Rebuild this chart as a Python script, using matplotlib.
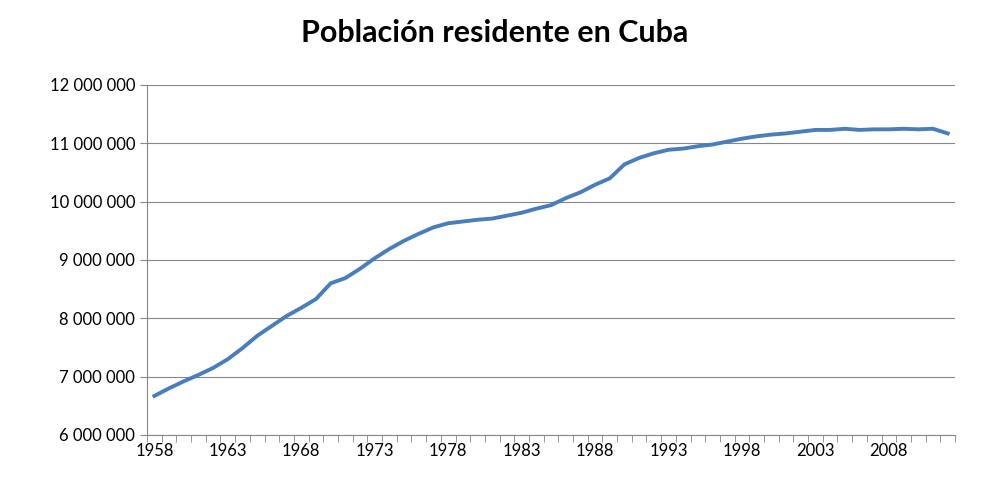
import numpy as np
import matplotlib.pyplot as plt
from matplotlib.ticker import FuncFormatter, MultipleLocator

years = list(range(1958, 2013))
population = [6.67, 6.80, 6.92, 7.03, 7.15, 7.30, 7.49, 7.70, 7.87, 8.04,
              8.18, 8.33, 8.60, 8.69, 8.85, 9.03, 9.19, 9.33, 9.45, 9.56,
              9.63, 9.66, 9.69, 9.71, 9.76, 9.81, 9.88, 9.94, 10.06, 10.16,
              10.29, 10.40, 10.64, 10.75, 10.83, 10.89, 10.91, 10.95, 10.98, 11.03,
              11.08, 11.12, 11.15, 11.17, 11.20, 11.23, 11.23, 11.25, 11.23, 11.24,
              11.24, 11.25, 11.24, 11.25, 11.17]
population = [v * 1e6 for v in population]
label_years = list(range(1958, 2013, 5))

plt.rcParams['font.family'] = ['Lato', 'DejaVu Sans']

fig = plt.figure(figsize=(9.89, 4.87), dpi=100)
ax = fig.add_axes([147 / 989, 1 - 435 / 487, 808 / 989, 350 / 487])

ax.plot(years, population, color='#4a7ebb', linewidth=2.8)

ax.set_xlim(1957.5, 2012.5)
ax.set_ylim(6e6, 12e6)
ax.yaxis.set_major_locator(MultipleLocator(1e6))
ax.yaxis.set_major_formatter(FuncFormatter(lambda v, p: f"{int(v):,}".replace(",", " ")))
ax.set_xticks(label_years)
ax.set_xticks(np.arange(1957.5, 2013, 1), minor=True)
ax.tick_params(axis='x', which='major', length=0, labelsize=12, pad=6)
ax.tick_params(axis='x', which='minor', length=5, color='#868686')
ax.tick_params(axis='y', length=5, color='#868686', labelsize=12)
ax.grid(axis='y', color='#868686', linewidth=0.8)
for side in ['top', 'right']:
    ax.spines[side].set_visible(False)
for side in ['left', 'bottom']:
    ax.spines[side].set_color('#868686')

fig.suptitle("Población residente en Cuba", fontsize=22, fontweight='bold', y=0.96)

plt.savefig("out.png", dpi=100)
